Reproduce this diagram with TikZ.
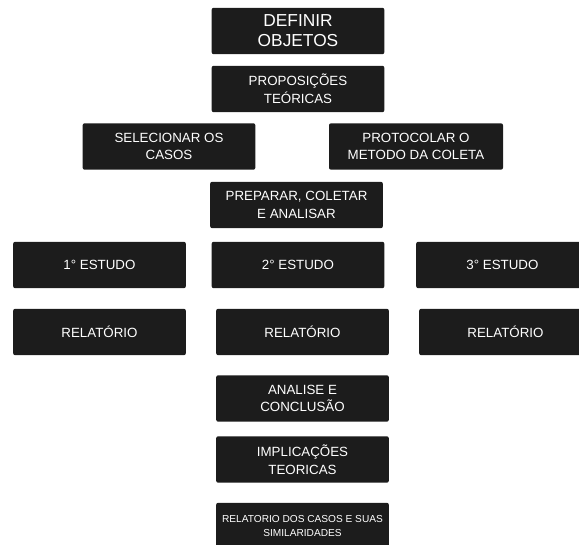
\documentclass[tikz,border=0pt]{standalone}
\usepackage{fontspec}
\setmainfont{Liberation Sans}
\definecolor{boxgray}{RGB}{28,28,28}

\begin{document}
\begin{tikzpicture}[x=0.75pt,y=0.75pt,yscale=-1,xscale=1,
  etapa/.style={fill=boxgray, rounded corners=1.5pt, text=white, align=center,
    inner sep=0pt, minimum width=129.5pt, minimum height=34.8pt,
    font=\fontsize{10}{13.3}\selectfont},
  titulo/.style={etapa, font=\fontsize{13}{15}\selectfont},
  pequeno/.style={etapa, font=\fontsize{7.6}{10.5}\selectfont}]
\useasboundingbox (0,0) rectangle (579,545);

% topo
\node [titulo] (definir) at (298,31) {DEFINIR\\OBJETOS};
\node [etapa] (proposicoes) at (298,89) {PROPOSIÇÕES\\TEÓRICAS};

% casos e protocolo
\node [etapa] (selecionar) at (169,146.5) {SELECIONAR OS\\CASOS};
\node [etapa, minimum width=130.5pt] (protocolar) at (416,146.5) {PROTOCOLAR O\\METODO DA COLETA};
\node [etapa] (preparar) at (296.5,205) {PREPARAR, COLETAR\\E ANALISAR};

% estudos
\node [etapa] (estudoA) at (99.5,265) {1° ESTUDO};
\node [etapa] (estudoB) at (298,265) {2° ESTUDO};
\node [etapa] (estudoC) at (502.5,265) {3° ESTUDO};

% relatorios
\node [etapa] (relatorioA) at (99.5,332) {RELATÓRIO};
\node [etapa] (relatorioB) at (302.5,332) {RELATÓRIO};
\node [etapa] (relatorioC) at (505.5,332) {RELATÓRIO};

% fechamento
\node [etapa] (analise) at (302.5,398.5) {ANALISE E\\CONCLUSÃO};
\node [etapa] (implicacoes) at (302.5,459.5) {IMPLICAÇÕES\\TEORICAS};
\node [pequeno] (relfinal) at (302.5,526) {RELATORIO DOS CASOS E SUAS\\SIMILARIDADES};

\end{tikzpicture}
\end{document}
